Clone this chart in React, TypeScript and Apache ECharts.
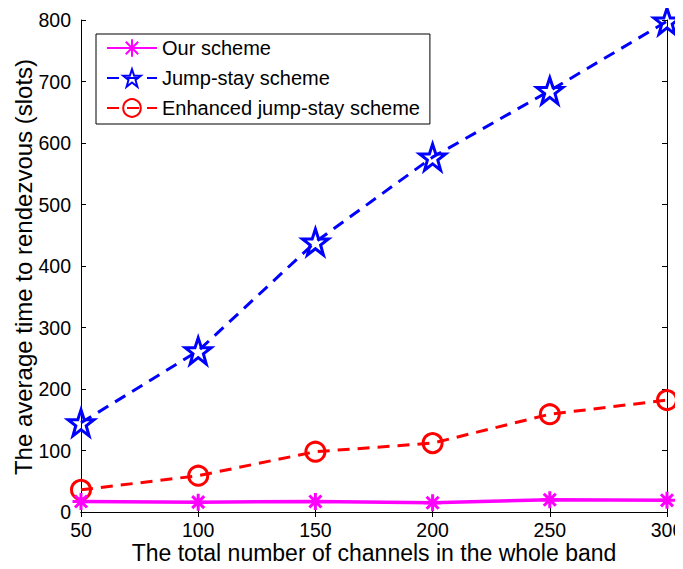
import React, { useEffect, useRef } from "react";
import * as echarts from "echarts";

const channels = [50, 100, 150, 200, 250, 300];
const ourScheme = [17, 16, 17, 15, 20, 19];
const jumpStay = [145, 262, 439, 577, 685, 798];
const enhancedJumpStay = [36, 59, 98, 112, 159, 182];
const seriesNames = ["Our scheme", "Jump-stay scheme", "Enhanced jump-stay scheme"];
const xTitle = "The total number of channels in the whole band";
const yTitle = "The average time to rendezvous (slots)";

const FONT = "Liberation Sans, Arial, Helvetica, sans-serif";

const asteriskPath =
  "path://M10,0L10,20M0,10L20,10M2.93,2.93L17.07,17.07M2.93,17.07L17.07,2.93";
const starPath =
  "path://M10,0L12.35,7.24L19.51,7.24L13.8,11.71L15.88,19.09L10,14.47L4.12,19.09L6.2,11.71L0.49,7.24L7.65,7.24Z";

export default function App() {
  const ref = useRef<HTMLDivElement>(null);
  useEffect(() => {
    if (!ref.current) return;
    const chart = echarts.init(ref.current, null, { renderer: "svg" });
    const pair = (ys: number[]) => channels.map((x, i) => [x, ys[i]]);
    const tickAxisCommon = {
      axisLine: { show: true, lineStyle: { color: "#000", width: 1 } },
      axisTick: { show: true, inside: true, length: 5, lineStyle: { color: "#000" } },
      splitLine: { show: false },
    };
    chart.setOption({
      animation: false,
      backgroundColor: "#fff",
      textStyle: { fontFamily: FONT },
      grid: { left: 81, top: 20, right: 16, bottom: 57, show: false, containLabel: false, outerBoundsMode: "none" },
      graphic: [
        {
          type: "text",
          x: 374,
          y: 553,
          style: {
            text: xTitle,
            fontFamily: FONT,
            fontSize: 23,
            fill: "#000",
            align: "center",
            verticalAlign: "middle",
          },
        },
        {
          type: "text",
          x: 23.5,
          y: 267,
          rotation: Math.PI / 2,
          style: {
            text: yTitle,
            fontFamily: FONT,
            fontSize: 24,
            fill: "#000",
            align: "center",
            verticalAlign: "middle",
          },
        },
      ],
      legend: {
        show: true,
        left: 96,
        top: 34,
        orient: "vertical",
        data: seriesNames,
        itemWidth: 50,
        itemHeight: 22,
        itemGap: 10,
        padding: [4, 10, 6, 10],
        borderColor: "#000",
        borderWidth: 1,
        backgroundColor: "#fff",
        textStyle: { fontFamily: FONT, fontSize: 20, color: "#000" },
      },
      xAxis: [
        {
          type: "value",
          min: 50,
          max: 300,
          interval: 50,
          axisLabel: { fontFamily: FONT, fontSize: 19.5, color: "#000", margin: 8 },
          ...tickAxisCommon,
        },
        {
          type: "value",
          position: "top",
          min: 50,
          max: 300,
          interval: 50,
          axisLabel: { show: false },
          ...tickAxisCommon,
        },
      ],
      yAxis: [
        {
          type: "value",
          min: 0,
          max: 800,
          interval: 100,
          axisLabel: { fontFamily: FONT, fontSize: 19.5, color: "#000", margin: 10 },
          ...tickAxisCommon,
        },
        {
          type: "value",
          position: "right",
          min: 0,
          max: 800,
          interval: 100,
          axisLabel: { show: false },
          ...tickAxisCommon,
        },
      ],
      series: [
        {
          name: seriesNames[0],
          type: "line",
          data: pair(ourScheme),
          symbol: asteriskPath,
          symbolSize: 17,
          lineStyle: { color: "#ff00ff", width: 3.5, type: "solid" },
          itemStyle: { color: "#ff00ff", borderColor: "#ff00ff", borderWidth: 3 },
          z: 3,
        },
        {
          name: seriesNames[1],
          type: "line",
          data: pair(jumpStay),
          symbol: starPath,
          symbolSize: 26,
          lineStyle: { color: "#0000ff", width: 3, type: [12, 8] },
          itemStyle: { color: "rgba(255,255,255,0)", borderColor: "#0000ff", borderWidth: 3 },
          z: 2,
        },
        {
          name: seriesNames[2],
          type: "line",
          data: pair(enhancedJumpStay),
          symbol: "circle",
          symbolSize: 19,
          lineStyle: { color: "#ff0000", width: 3, type: [12, 8] },
          itemStyle: { color: "rgba(255,255,255,0)", borderColor: "#ff0000", borderWidth: 3 },
          z: 2,
        },
      ],
    });
    return () => chart.dispose();
  }, []);
  return <div ref={ref} style={{ width: 683, height: 569, margin: -8 }} />;
}
